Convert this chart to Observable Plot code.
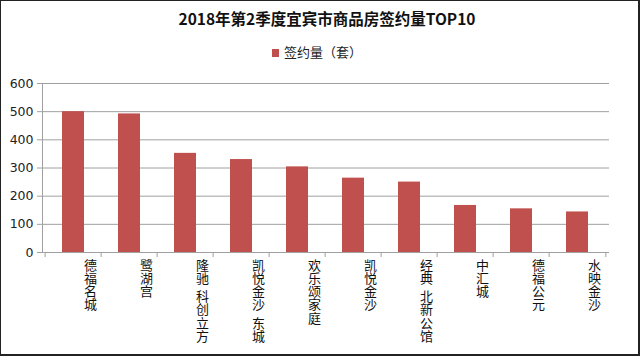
<!DOCTYPE html>
<html>
<head>
<meta charset="utf-8">
<script src="https://cdn.jsdelivr.net/npm/d3@7"></script>
<script src="https://cdn.jsdelivr.net/npm/@observablehq/plot@0.6"></script>
<style>
  html, body { margin: 0; padding: 0; background: #fff; }
  #wrap { position: relative; width: 640px; height: 356px; overflow: hidden; background: #fff; font-family: "Noto Sans CJK SC", "DejaVu Sans", sans-serif; }
  #title { position: absolute; top: 8px; left: 14px; width: 626px; text-align: center; font-size: 15.5px; font-weight: bold; color: #111; line-height: 21px; }
  #legend { position: absolute; top: 42px; left: 0; width: 634px; text-align: center; font-size: 13px; color: #222; line-height: 19px; }
  #legend .sw { display: inline-block; width: 7px; height: 8px; background: #C0504D; margin-right: 5px; vertical-align: 0px; }
  #chart { position: absolute; top: 65px; left: 0; }
  #border { position: absolute; left: 0; top: 0; width: 640px; height: 356px; box-sizing: border-box; border: 1px solid #222; border-right-width: 2px; border-bottom-width: 2px; pointer-events: none; }
</style>
</head>
<body>
<div id="wrap">
  <div id="title">2018年第2季度宜宾市商品房签约量TOP10</div>
  <div id="legend"><span class="sw"></span>签约量（套）</div>
  <div id="chart"></div>
  <div id="border"></div>
</div>
<script>
const categories = ["德福名城", "鹭湖宫", "隆驰 科创立方", "凯悦金沙 东城", "欢乐颂家庭", "凯悦金沙", "经典 北新公馆", "中汇城", "德福公元", "水映金沙"];
const values = [500, 492, 352, 330, 304, 264, 250, 167, 155, 144];
const yTicks = [0, 100, 200, 300, 400, 500, 600];
const seriesName = "签约量（套）";

const data = categories.map((c, i) => ({ name: c, value: values[i] }));

// vertical (stacked) category labels: one entry per character
const charData = categories.flatMap(name => {
  const out = [];
  let k = 0, gap = false;
  for (const ch of name) {
    if (ch === " ") { gap = true; continue; }
    out.push({ name, ch, k, gap });
    k++;
  }
  return out;
});

const W = 640, H = 291;
const mL = 42, mR = 31, mT = 18, mB = 104;
const step = (W - mL - mR) / categories.length;
const half = step / 2;
const lineStep = 13.2, gapSize = 5;

const slots = d3.groups(charData, d => d.k, d => d.gap);
const labelMarks = slots.flatMap(([k, byGap]) => byGap.map(([gap, rows]) =>
  Plot.text(rows, {
    x: "name", text: "ch", frameAnchor: "bottom", lineAnchor: "top",
    dx: 17, dy: 8 + k * lineStep + (gap ? gapSize : 0),
    fontSize: 13, fontFamily: "Noto Sans CJK SC", fill: "#111"
  })
));

const chart = Plot.plot({
  width: W,
  height: H,
  marginLeft: mL,
  marginRight: mR,
  marginTop: mT,
  marginBottom: mB,
  style: { fontFamily: "DejaVu Sans, sans-serif", background: "transparent", color: "#222" },
  x: { domain: categories, paddingInner: 0.6, paddingOuter: 0.3, axis: null, label: null },
  y: { domain: [0, 600], axis: null, label: null },
  marks: [
    Plot.gridY(yTicks, { stroke: "#a0a0a0", strokeOpacity: 1 }),
    Plot.frame({ anchor: "left", stroke: "#a0a0a0" }),
    Plot.ruleY([0], { stroke: "#a0a0a0" }),
    Plot.barY(data, { x: "name", y: "value", fill: "#C0504D" }),
    Plot.axisY({ ticks: yTicks, label: null, tickSize: 5, tickPadding: 4, fontSize: 12.5, stroke: "#a0a0a0", fill: "#222" }),
    Plot.axisX({ label: null, tickSize: 5, tickFormat: () => "", dx: -half, stroke: "#a0a0a0" }),
    Plot.axisX({ label: null, ticks: [categories[categories.length - 1]], tickSize: 5, tickFormat: () => "", dx: half, stroke: "#a0a0a0" }),
    ...labelMarks
  ]
});
document.getElementById("chart").appendChild(chart);
</script>
</body>
</html>
